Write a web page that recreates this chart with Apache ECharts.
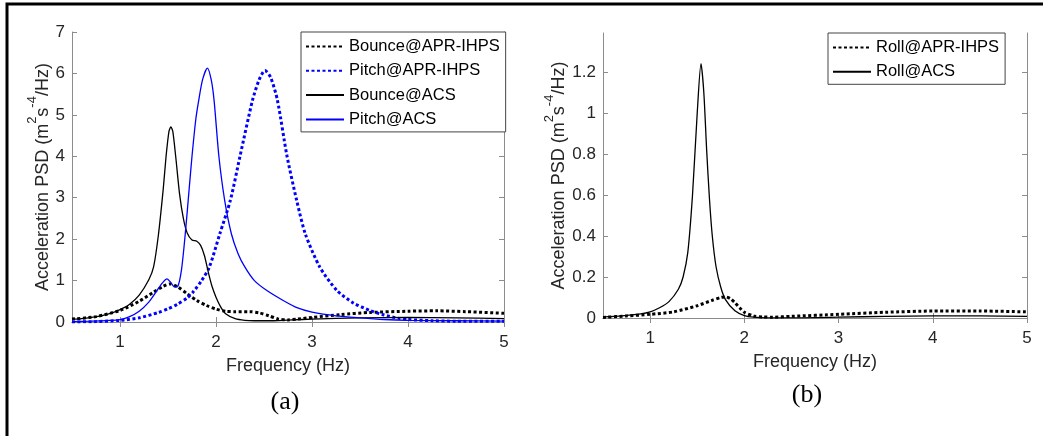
<!DOCTYPE html>
<html><head><meta charset="utf-8">
<script src="https://cdn.jsdelivr.net/npm/echarts@6/dist/echarts.min.js"></script>
<style>html,body{margin:0;padding:0;background:#fff;}#c{width:1043px;height:436px;}</style>
</head><body><div id="c"></div>
<script>
// ---- Tick labels ----
const xTicks = [1, 2, 3, 4, 5];
const yTicksA = [0, 1, 2, 3, 4, 5, 6, 7];
const yTicksB = [0, 0.2, 0.4, 0.6, 0.8, 1, 1.2];

// ---- Panel (a) data ----
const bounceAprF = [0.5,0.75,1.0,1.2,1.35,1.45,1.52,1.6,1.7,1.8,1.9,2.0,2.1,2.2,2.35,2.45,2.55,2.65,2.75,2.85,3.0,3.3,3.6,4.0,4.3,4.6,5.0];
const bounceAprV = [0.07,0.13,0.28,0.5,0.72,0.86,0.92,0.85,0.68,0.52,0.4,0.31,0.26,0.25,0.25,0.22,0.15,0.07,0.05,0.07,0.11,0.18,0.23,0.26,0.27,0.25,0.21];

const pitchAprF = [0.5,0.75,1.0,1.2,1.4,1.5,1.6,1.7,1.76,1.85,1.93,2.04,2.15,2.25,2.38,2.45,2.51,2.57,2.64,2.74,2.84,2.93,3.08,3.26,3.43,3.6,3.75,3.9,4.0,4.25,4.5,5.0];
const pitchAprV = [0.0,0.01,0.04,0.1,0.23,0.32,0.43,0.58,0.72,1.0,1.32,2.13,2.94,4.0,5.35,5.85,6.07,5.9,5.35,4.0,2.94,2.13,1.33,0.76,0.46,0.28,0.17,0.09,0.06,0.03,0.02,0.02];

const bounceAcsF = [0.5,0.6,0.7,0.8,0.9,1.0,1.1,1.2,1.3,1.35,1.4,1.45,1.48,1.51,1.53,1.55,1.58,1.62,1.66,1.7,1.75,1.8,1.84,1.88,1.92,1.96,2.0,2.05,2.1,2.2,2.3,2.4,2.6,2.8,3.0,3.5,4.0,4.5,5.0];
const bounceAcsV = [0.06,0.08,0.11,0.15,0.21,0.3,0.43,0.65,1.02,1.33,2.1,3.2,4.0,4.6,4.71,4.6,4.0,3.1,2.5,2.15,1.98,1.95,1.85,1.6,1.2,0.85,0.6,0.36,0.2,0.08,0.04,0.03,0.03,0.05,0.07,0.1,0.11,0.1,0.08];

const pitchAcsF = [0.5,0.7,0.9,1.0,1.1,1.2,1.3,1.38,1.44,1.49,1.53,1.57,1.6,1.64,1.68,1.72,1.75,1.79,1.82,1.86,1.91,1.95,1.98,2.03,2.09,2.16,2.23,2.3,2.4,2.53,2.7,2.85,3.0,3.25,3.5,3.75,4.0,4.5,5.0];
const pitchAcsV = [0.01,0.02,0.04,0.06,0.13,0.26,0.48,0.74,0.94,1.04,0.95,0.84,0.85,1.25,2.13,3.2,4.0,4.9,5.35,5.85,6.13,5.85,5.35,4.0,2.94,2.13,1.65,1.33,1.0,0.76,0.52,0.34,0.24,0.15,0.1,0.06,0.04,0.03,0.02];

// ---- Panel (b) data ----
const rollAprF = [0.5,0.75,1.0,1.25,1.5,1.65,1.75,1.8,1.85,1.9,1.95,2.0,2.1,2.2,2.3,2.5,3.0,3.5,4.0,4.5,5.0];
const rollAprV = [0.003,0.01,0.018,0.03,0.06,0.085,0.1,0.103,0.095,0.075,0.05,0.028,0.01,0.005,0.004,0.008,0.018,0.028,0.034,0.034,0.03];

const rollAcsF = [0.5,0.7,0.9,1.0,1.1,1.2,1.3,1.35,1.4,1.45,1.5,1.54,1.57,1.6,1.63,1.66,1.7,1.75,1.8,1.9,2.0,2.1,2.25,2.5,3.0,3.5,4.0,4.5,5.0];
const rollAcsV = [0.005,0.01,0.02,0.03,0.05,0.08,0.14,0.2,0.32,0.6,1.0,1.24,1.1,0.82,0.58,0.4,0.25,0.15,0.09,0.035,0.012,0.004,0.001,0.001,0.004,0.008,0.01,0.01,0.008];

const namesA = ['Bounce@APR-IHPS','Pitch@APR-IHPS','Bounce@ACS','Pitch@ACS'];
const namesB = ['Roll@APR-IHPS','Roll@ACS'];

function pts(f, v){ return f.map((x,i)=>[x, v[i]]); }

const FONT = 'Liberation Sans, Arial, sans-serif';
const AX = '#8c8c8c';
const TXT = '#262626';

function xAx(grid, pos){
  return { type:'value', gridIndex:grid, position:pos, min:0.5, max:5,
    axisLine:{show:true, lineStyle:{color:AX, width:1}},
    axisTick:{show:true, inside:true, length:5, customValues:xTicks, lineStyle:{color:AX}},
    axisLabel:{show:pos==='bottom', customValues:xTicks, margin:12, color:TXT, fontFamily:FONT, fontSize:17},
    splitLine:{show:false},
    name: pos==='bottom' ? 'Frequency (Hz)' : '',
    nameLocation:'middle', nameGap:35,
    nameTextStyle:{color:TXT, fontFamily:FONT, fontSize:18}
  };
}
const yName = '{a|Acceleration PSD (m}{s|2}{a|s}{s|-4}{a|/Hz)}';
const yRich = {
  a:{fontFamily:FONT, fontSize:18, color:TXT, lineHeight:26, verticalAlign:'bottom'},
  s:{fontFamily:FONT, fontSize:13, color:TXT, lineHeight:14, verticalAlign:'top'}
};
function yAx(grid, pos, max, ticks, gap){
  return { type:'value', gridIndex:grid, position:pos, min:0, max:max,
    axisLine:{show:true, lineStyle:{color:AX, width:1}},
    axisTick:{show:true, inside:true, length:5, customValues:ticks, lineStyle:{color:AX}},
    axisLabel:{show:pos==='left', customValues:ticks, margin:7, color:TXT, fontFamily:FONT, fontSize:17},
    splitLine:{show:false},
    name: pos==='left' ? yName : '',
    nameLocation:'middle', nameGap:gap, nameRotate:90,
    nameTextStyle:{rich:yRich}
  };
}

const dotBlack = {color:'#000', width:3, type:[3,2.5]};
const dotBlue = {color:'#0000ff', width:3, type:[3,2.5]};
function ser(name, data, xi, yi, ls){
  return {name, type:'line', data, xAxisIndex:xi, yAxisIndex:yi, symbol:'none', showSymbol:false,
    smooth:0.25, lineStyle:ls, itemStyle:{color:ls.color}, z: 3};
}

const legendCommon = {
  orient:'vertical', itemWidth:38, itemHeight:14, itemGap:7.3,
  padding:[6,6,4,4], borderColor:'#444', borderWidth:1, backgroundColor:'#fff',
  textStyle:{fontFamily:FONT, fontSize:16.5, color:'#000'},
  itemStyle:{opacity:0}
};

const chart = echarts.init(document.getElementById('c'), null, {renderer:'canvas'});
chart.setOption({
  animation:false,
  backgroundColor:'#fff',
  grid:[
    {left:72, top:32, width:432, height:290},
    {left:603, top:33, width:424, height:285}
  ],
  xAxis:[xAx(0,'bottom'), xAx(0,'top'), xAx(1,'bottom'), xAx(1,'top')],
  yAxis:[yAx(0,'left',7,yTicksA,18), yAx(0,'right',7,yTicksA,0),
         yAx(1,'left',1.39,yTicksB,31), yAx(1,'right',1.39,yTicksB,0)],
  legend:[
    Object.assign({}, legendCommon, {left:301, top:32, data:namesA}),
    Object.assign({}, legendCommon, {left:828, top:33, data:namesB})
  ],
  series:[
    ser(namesA[0], pts(bounceAprF, bounceAprV), 0, 0, dotBlack),
    ser(namesA[1], pts(pitchAprF, pitchAprV), 0, 0, dotBlue),
    ser(namesA[2], pts(bounceAcsF, bounceAcsV), 0, 0, {color:'#000', width:1.3, type:'solid'}),
    ser(namesA[3], pts(pitchAcsF, pitchAcsV), 0, 0, {color:'#0000ff', width:1.3, type:'solid'}),
    ser(namesB[0], pts(rollAprF, rollAprV), 2, 2, dotBlack),
    ser(namesB[1], pts(rollAcsF, rollAcsV), 2, 2, {color:'#000', width:1.3, type:'solid'})
  ],
  graphic:[
    {type:'rect', shape:{x:7, y:4, width:1200, height:600}, style:{fill:null, stroke:'#000', lineWidth:3}, silent:true, z:100},
    {type:'text', x:285, y:402, style:{text:'(a)', font:'26px "Liberation Serif", "Times New Roman", serif', fill:'#000', textAlign:'center', textVerticalAlign:'middle'}},
    {type:'text', x:807, y:395, style:{text:'(b)', font:'26px "Liberation Serif", "Times New Roman", serif', fill:'#000', textAlign:'center', textVerticalAlign:'middle'}}
  ]
});
</script></body></html>
